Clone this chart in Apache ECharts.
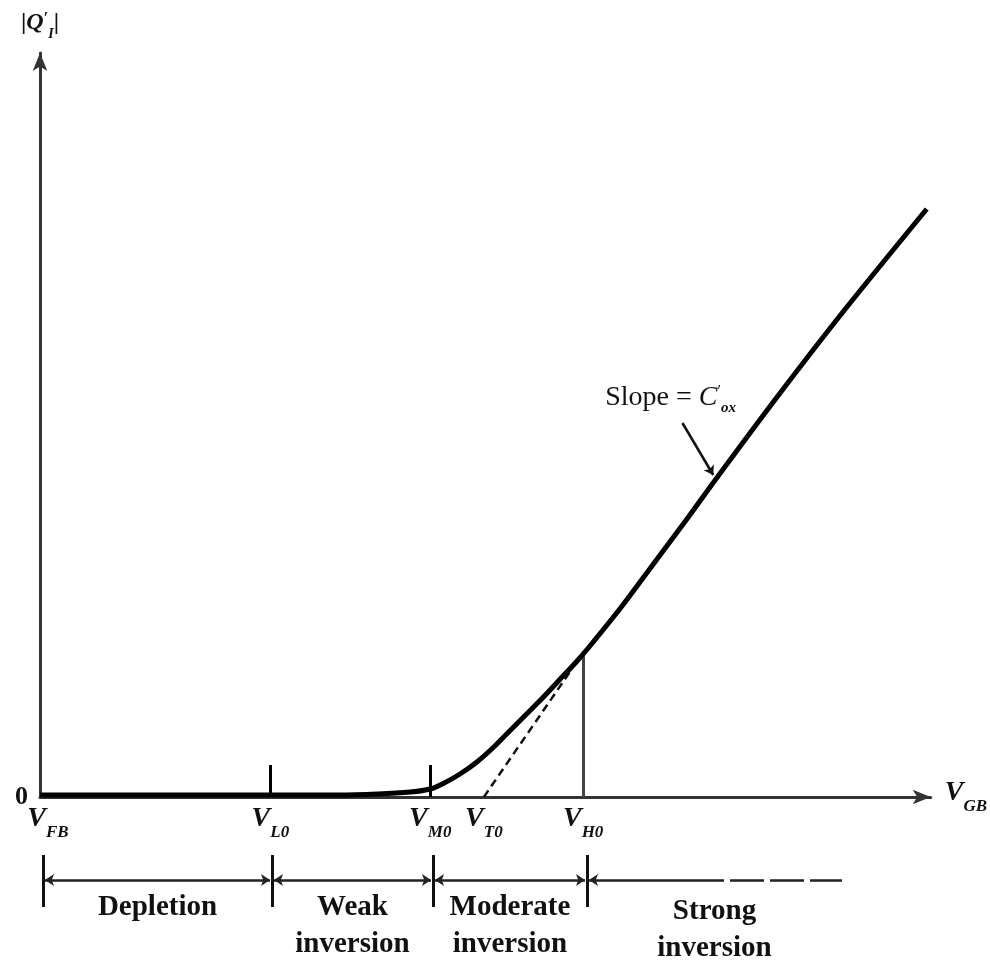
<!DOCTYPE html>
<html>
<head>
<meta charset="utf-8">
<script src="https://cdn.jsdelivr.net/npm/echarts@6/dist/echarts.min.js"></script>
<style>
html,body{margin:0;padding:0;background:#fff;}
#chart{width:990px;height:964px;}
</style>
</head>
<body>
<div id="chart"></div>
<script>
// ---- data (arbitrary voltage / charge units) ----
const curveX = [0, 3.0, 3.4, 3.73, 3.93, 4.07, 4.23, 4.40, 4.57, 4.73, 4.90, 5.07, 5.23, 5.40, 5.53, 5.87, 6.20, 6.53, 6.80, 7.40, 8.07, 8.93];
const curveY = [0.02, 0.02, 0.03, 0.05, 0.08, 0.14, 0.23, 0.35, 0.50, 0.66, 0.83, 1.00, 1.17, 1.35, 1.50, 1.92, 2.36, 2.80, 3.17, 3.97, 4.83, 5.88];
const tangentX = [4.47, 5.35];
const tangentY = [0, 1.27];
const tickValues = [0, 2.32, 3.93, 4.47, 5.47];
const tickSubs = ['FB', 'L0', 'M0', 'T0', 'H0'];
const tickMarkValues = [2.32, 3.93];
const tickMarkHeight = 0.32;
const vh0X = 5.47;
const vh0Y = 1.46;
const regionNames = ['Depletion', 'Weak\ninversion', 'Moderate\ninversion', 'Strong\ninversion'];
const regionBounds = [0.03, 2.32, 3.93, 5.47, 8.02];
const strongSolidEnd = 6.5;
const slopePointer = [[6.47, 3.74], [6.78, 3.22]];
const slopeLabelPos = [6.35, 3.97];

const serif = 'Liberation Serif';
const ink = '#111';

const vRich = {
  v: {fontFamily: serif, fontStyle: 'italic', fontWeight: 'bold', fontSize: 28, lineHeight: 36, verticalAlign: 'top', color: ink},
  v0: {fontFamily: serif, fontStyle: 'italic', fontWeight: 'bold', fontSize: 28, lineHeight: 36, verticalAlign: 'top', color: ink, padding: [0, 0, 0, 16]},
  s: {fontFamily: serif, fontStyle: 'italic', fontWeight: 'bold', fontSize: 17, lineHeight: 18, verticalAlign: 'bottom', color: ink}
};

const curveData = curveX.map((x, i) => [x, curveY[i]]);
const tangentData = tangentX.map((x, i) => [x, tangentY[i]]);

// bracket row (grid 2, y in pixel-like units from top of grid)
const barTop = 15, barBottom = 67, bracketY = 40;
const bars = regionBounds.slice(0, 4).map(x => ({coords: [[x, barTop], [x, barBottom]]}));
const arrowSegs = [];
for (let i = 0; i < 3; i++) {
  arrowSegs.push({coords: [[regionBounds[i] + 0.02, bracketY], [regionBounds[i + 1] - 0.02, bracketY]]});
}
const regionLabelData = regionNames.map((n, i) => {
  const cx = (regionBounds[i] + regionBounds[i + 1]) / 2;
  const cy = n.indexOf('\n') >= 0 ? (i === 3 ? 90 : 86) : 68;
  return {value: [cx, cy], name: n};
});

const chart = echarts.init(document.getElementById('chart'));
chart.setOption({
  animation: false,
  backgroundColor: '#fff',
  grid: [
    {left: 40, top: 53, width: 897, height: 744},
    {left: 40, top: 840, width: 895, height: 120}
  ],
  xAxis: [
    {
      gridIndex: 0, type: 'value', min: 0, max: 8.97,
      axisLine: {show: true, onZero: false, symbol: ['none', 'arrow'], symbolSize: [11, 18], lineStyle: {color: '#333', width: 3}},
      axisTick: {show: false},
      splitLine: {show: false},
      axisLabel: {
        show: true,
        customValues: tickValues,
        margin: 8,
        formatter: function (val, idx) {
          let i = tickValues.indexOf(val);
          if (i < 0) i = idx;
          return (i === 0 ? '{v0|V}' : '{v|V}') + '{s|' + tickSubs[i] + '}';
        },
        rich: vRich
      },
      name: '{v|V}{s|GB}',
      nameLocation: 'end',
      nameGap: 14,
      nameTextStyle: {rich: vRich}
    },
    {gridIndex: 1, type: 'value', min: 0, max: 8.95, show: false}
  ],
  yAxis: [
    {
      gridIndex: 0, type: 'value', min: 0, max: 7.44,
      axisLine: {show: true, symbol: ['none', 'arrow'], symbolSize: [11, 18], lineStyle: {color: '#333', width: 3}},
      axisTick: {show: false},
      splitLine: {show: false},
      axisLabel: {
        show: true, customValues: [0], margin: 12,
        formatter: function () { return '0'; },
        fontFamily: serif, fontWeight: 'bold', fontSize: 26, color: ink
      },
      name: '{a||}{q|Q}{p|′}{i|I}{a||}',
      nameLocation: 'end',
      nameGap: 12,
      nameTextStyle: {
        rich: {
          a: {fontFamily: serif, fontWeight: 'bold', fontSize: 24, lineHeight: 30, verticalAlign: 'top', color: ink},
          q: {fontFamily: serif, fontStyle: 'italic', fontWeight: 'bold', fontSize: 24, lineHeight: 30, verticalAlign: 'top', color: ink},
          p: {fontFamily: serif, fontWeight: 'bold', fontSize: 16, lineHeight: 14, verticalAlign: 'top', color: ink},
          i: {fontFamily: serif, fontStyle: 'italic', fontWeight: 'bold', fontSize: 14, lineHeight: 14, verticalAlign: 'bottom', color: ink}
        }
      }
    },
    {gridIndex: 1, type: 'value', min: 0, max: 120, inverse: true, show: false}
  ],
  series: [
    {
      type: 'line', xAxisIndex: 0, yAxisIndex: 0,
      data: curveData, smooth: 0.3, showSymbol: false,
      lineStyle: {color: '#000', width: 5}, z: 5
    },
    {
      type: 'line', xAxisIndex: 0, yAxisIndex: 0,
      data: tangentData, showSymbol: false,
      lineStyle: {color: '#111', width: 2.5, type: [8, 5]}, z: 4
    },
    {
      type: 'lines', coordinateSystem: 'cartesian2d', xAxisIndex: 0, yAxisIndex: 0,
      data: tickMarkValues.map(x => ({coords: [[x, 0], [x, tickMarkHeight]]})),
      lineStyle: {color: '#000', width: 3, opacity: 1}, z: 4
    },
    {
      type: 'lines', coordinateSystem: 'cartesian2d', xAxisIndex: 0, yAxisIndex: 0,
      data: [{coords: [[vh0X, 0], [vh0X, vh0Y]]}],
      lineStyle: {color: '#444', width: 3, opacity: 1}, z: 3
    },
    {
      type: 'lines', coordinateSystem: 'cartesian2d', xAxisIndex: 0, yAxisIndex: 0,
      data: [{coords: slopePointer}],
      symbol: ['none', 'arrow'], symbolSize: 9,
      lineStyle: {color: '#111', width: 2.5, opacity: 1}, z: 4
    },
    {
      type: 'scatter', xAxisIndex: 0, yAxisIndex: 0,
      data: [slopeLabelPos], symbolSize: 0.1, itemStyle: {color: '#000', opacity: 1},
      label: {
        show: true, position: 'inside',
        formatter: '{t|Slope = }{c|C}{p|′}{o|ox}',
        rich: {
          t: {fontFamily: serif, fontSize: 28, lineHeight: 32, verticalAlign: 'top', color: '#111'},
          c: {fontFamily: serif, fontStyle: 'italic', fontSize: 28, lineHeight: 32, verticalAlign: 'top', color: '#111'},
          p: {fontFamily: serif, fontSize: 16, lineHeight: 20, verticalAlign: 'top', color: '#111'},
          o: {fontFamily: serif, fontStyle: 'italic', fontWeight: 'bold', fontSize: 15, lineHeight: 16, verticalAlign: 'bottom', color: '#111'}
        }
      }
    },
    // bracket row
    {
      type: 'lines', coordinateSystem: 'cartesian2d', xAxisIndex: 1, yAxisIndex: 1,
      data: bars, lineStyle: {color: '#111', width: 3, opacity: 1}
    },
    {
      type: 'lines', coordinateSystem: 'cartesian2d', xAxisIndex: 1, yAxisIndex: 1,
      data: arrowSegs, symbol: ['arrow', 'arrow'], symbolSize: 9,
      lineStyle: {color: '#222', width: 2.5, opacity: 1}
    },
    {
      type: 'lines', coordinateSystem: 'cartesian2d', xAxisIndex: 1, yAxisIndex: 1,
      data: [{coords: [[regionBounds[3] + 0.02, bracketY], [strongSolidEnd, bracketY]]}],
      symbol: ['arrow', 'none'], symbolSize: 9,
      lineStyle: {color: '#222', width: 2.5, opacity: 1}
    },
    {
      type: 'lines', coordinateSystem: 'cartesian2d', xAxisIndex: 1, yAxisIndex: 1,
      data: [{coords: [[strongSolidEnd, bracketY], [regionBounds[4], bracketY]]}],
      lineStyle: {color: '#222', width: 2.5, opacity: 1, type: [34, 6]}
    },
    {
      type: 'scatter', xAxisIndex: 1, yAxisIndex: 1,
      data: regionLabelData, symbolSize: 0.1, itemStyle: {color: '#000', opacity: 1},
      label: {
        show: true, position: 'inside',
        formatter: p => p.name,
        fontFamily: serif, fontWeight: 'bold', fontSize: 29, lineHeight: 37,
        color: '#111', align: 'center'
      }
    }
  ]
});
</script>
</body>
</html>
